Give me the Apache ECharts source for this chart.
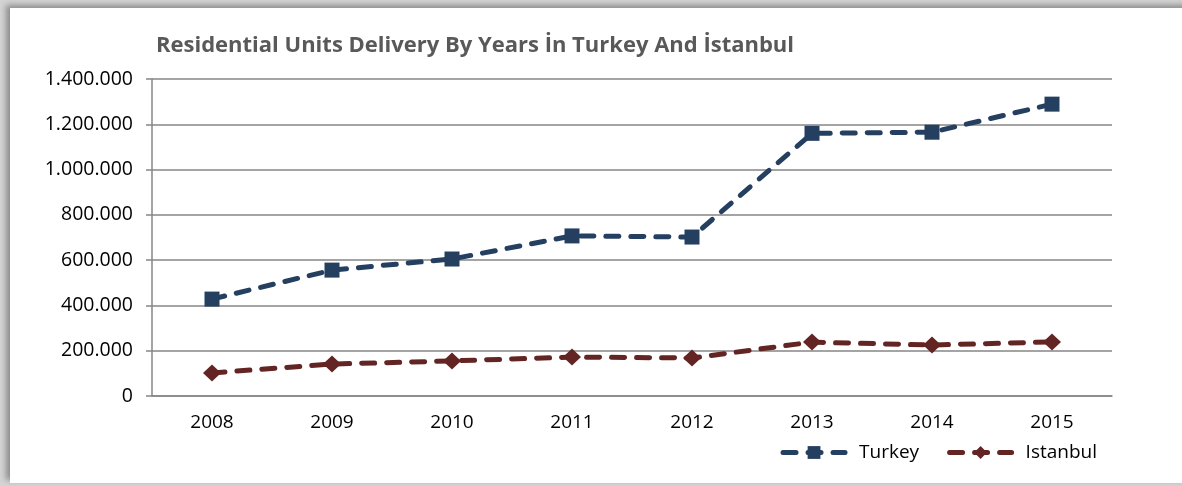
<!DOCTYPE html>
<html>
<head>
<meta charset="utf-8">
<script src="https://cdn.jsdelivr.net/npm/echarts@6/dist/echarts.min.js"></script>
<style>
  html, body { margin: 0; padding: 0; width: 1182px; height: 486px; overflow: hidden; background: #d4d4d4; }
  #frame { position: absolute; left: 10px; top: 8px; width: 1200px; height: 475px; background: #fff;
           box-shadow: -4px -3px 6px #8c8c8c; }
  #chart { position: absolute; left: 0; top: 0; width: 1182px; height: 486px; }
</style>
</head>
<body>
<div id="frame"></div>
<div id="chart"></div>
<script>
const years = ['2008', '2009', '2010', '2011', '2012', '2013', '2014', '2015'];
const turkey = [428000, 556000, 605000, 707000, 702000, 1160000, 1165000, 1289000];
const istanbul = [102000, 141000, 155000, 172000, 168000, 238000, 225000, 239000];

const fmt = v => String(v).replace(/\B(?=(\d{3})+(?!\d))/g, '.');

const getOption = () => {
    return {
        backgroundColor: 'transparent',
        title: {
            text: 'Residential Units Delivery By Years İn Turkey And İstanbul',
            left: 151,
            top: 30,
            textStyle: {
                color: '#595959',
                fontFamily: 'Open Sans',
                fontWeight: 'bold',
                fontSize: 22
            }
        },
        legend: {
            right: 80,
            top: 438,
            itemWidth: 62,
            itemHeight: 16,
            itemGap: 28,
            lineStyle: { width: 5 },
            textStyle: {
                color: '#000',
                fontFamily: 'Open Sans',
                fontSize: 19,
                padding: [0, 0, 0, 9]
            },
            data: ['Turkey', 'Istanbul']
        },
        grid: {
            left: 152,
            right: 70,
            top: 79,
            bottom: 90
        },
        xAxis: {
            type: 'category',
            data: years,
            axisLine: { lineStyle: { color: '#868686', width: 1.5 } },
            axisTick: { length: 6, lineStyle: { color: '#868686', width: 1.5 } },
            axisLabel: {
                color: '#000',
                fontFamily: 'Open Sans',
                fontSize: 19,
                margin: 17
            }
        },
        yAxis: {
            type: 'value',
            min: 0,
            max: 1400000,
            interval: 200000,
            axisLine: { show: true, lineStyle: { color: '#868686', width: 1.5 } },
            axisTick: { show: true, length: 6, lineStyle: { color: '#868686', width: 1.5 } },
            splitLine: { lineStyle: { color: '#868686', width: 1.5 } },
            axisLabel: {
                color: '#000',
                fontFamily: 'Open Sans',
                fontSize: 19.5,
                margin: 19,
                formatter: fmt
            }
        },
        series: [
            {
                name: 'Turkey',
                type: 'line',
                data: turkey,
                symbol: 'rect',
                symbolSize: 15,
                color: '#243F60',
                lineStyle: { width: 5, type: [13, 12], cap: 'round', color: '#243F60' },
                itemStyle: { color: '#243F60' }
            },
            {
                name: 'Istanbul',
                type: 'line',
                data: istanbul,
                symbol: 'diamond',
                symbolSize: [18, 17],
                color: '#632523',
                lineStyle: { width: 5, type: [13, 12], cap: 'round', color: '#632523' },
                itemStyle: { color: '#632523' }
            }
        ]
    };
};

const initChart = () => {
    const chart = echarts.init(document.getElementById('chart'));
    chart.setOption(getOption());
};

window.addEventListener('load', () => {
    initChart();
});
</script>
</body>
</html>
